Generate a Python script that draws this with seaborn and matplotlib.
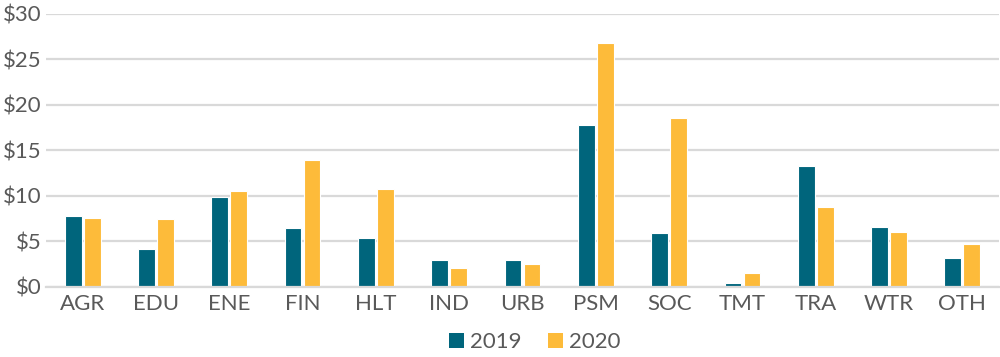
import matplotlib
matplotlib.use("Agg")
import matplotlib.pyplot as plt
import seaborn as sns
import pandas as pd
from matplotlib.patches import Patch
from matplotlib.ticker import FuncFormatter

categories = ["AGR", "EDU", "ENE", "FIN", "HLT", "IND", "URB", "PSM", "SOC", "TMT", "TRA", "WTR", "OTH"]
values_2019 = [7.8, 4.1, 9.9, 6.4, 5.4, 2.9, 2.9, 17.8, 5.9, 0.4, 13.3, 6.6, 3.1]
values_2020 = [7.6, 7.4, 10.5, 13.9, 10.7, 2.1, 2.5, 26.8, 18.6, 1.5, 8.8, 6.0, 4.7]
series = ["2019", "2020"]
yticks = [0, 5, 10, 15, 20, 25, 30]

df = pd.DataFrame({
    "cat": categories * 2,
    "year": [series[0]] * len(categories) + [series[1]] * len(categories),
    "value": values_2019 + values_2020,
})

sns.set_theme(style="white")
plt.rcParams["font.family"] = ["Lato", "DejaVu Sans"]
text_color = "#595959"
colors = {"2019": "#00657C", "2020": "#FDBB3A"}

fig = plt.figure(figsize=(10, 3.57), dpi=100)
ax = fig.add_axes([0.046, 0.197, 0.953, 0.764])
sns.barplot(data=df, x="cat", y="value", hue="year", palette=colors,
            order=categories, hue_order=series, width=0.52, gap=0.12,
            saturation=1, edgecolor="white", linewidth=0.8, legend=False, ax=ax)

ax.set_ylim(0, 30)
ax.set_xlim(-0.5, len(categories) - 0.5)
ax.set_yticks(yticks)
ax.yaxis.set_major_formatter(FuncFormatter(lambda v, p: f"${v:.0f}"))
ax.grid(axis="y", color="#d9d9d9", linewidth=1.6)
ax.set_axisbelow(True)
for s in ["top", "right", "left"]:
    ax.spines[s].set_visible(False)
ax.spines["bottom"].set_color("#d9d9d9")
ax.spines["bottom"].set_linewidth(1.6)
ax.tick_params(axis="both", length=0, labelsize=16, colors=text_color, pad=5)
ax.tick_params(axis="y", pad=3)
ax.set_xlabel("")
ax.set_ylabel("")

handles = [Patch(facecolor=colors[s], edgecolor="none", label=s) for s in series]
fig.legend(handles=handles, loc="center", bbox_to_anchor=(0.535, 0.042), ncol=2,
           frameon=False, fontsize=16, handlelength=0.65, handleheight=0.65,
           handletextpad=0.3, columnspacing=1.2, labelcolor=text_color)

fig.savefig("out.png", dpi=100)
